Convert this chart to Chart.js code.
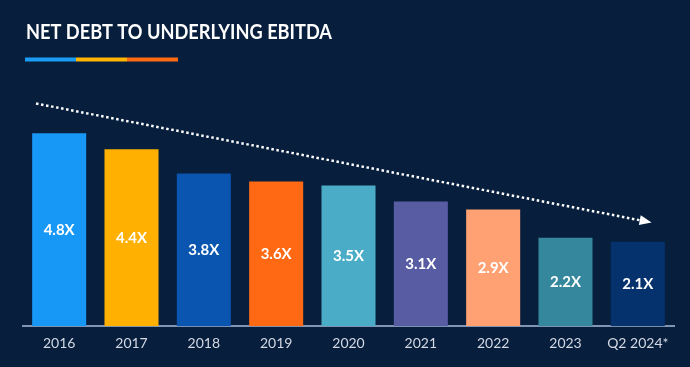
<!DOCTYPE html>
<html>
<head>
<meta charset="utf-8">
<script src="https://cdn.jsdelivr.net/npm/chart.js@4/dist/chart.umd.min.js"></script>
<style>
  html, body { margin: 0; padding: 0; background: #071e3d; }
  #wrap { width: 690px; height: 367px; position: relative; }
</style>
</head>
<body>
<div id="wrap"><canvas id="debtChart"></canvas></div>
<script>
// chart data
const categories = ["2016", "2017", "2018", "2019", "2020", "2021", "2022", "2023", "Q2 2024*"];
const ratios = [4.8, 4.4, 3.8, 3.6, 3.5, 3.1, 2.9, 2.2, 2.1];
const barColors = ["#1898f6", "#ffb000", "#0a55b0", "#ff6914", "#4aacc6", "#585ca2", "#ffa172", "#34879c", "#05326c"];
const titleText = "NET DEBT TO UNDERLYING EBITDA";
const underlineColors = ["#1a9cf2", "#ffb400", "#ff6a13"];
// trend arrow: [category index, ratio] at start and end
const trendStart = [-0.32, 5.54];
const trendEnd = [8.19, 2.58];

const bgColor = "#071e3d";

const backdrop = {
  id: "backdrop",
  beforeDraw(chart) {
    const ctx = chart.ctx;
    ctx.save();
    ctx.fillStyle = bgColor;
    ctx.fillRect(0, 0, chart.width, chart.height);
    ctx.restore();
  }
};

const heading = {
  id: "heading",
  afterDraw(chart) {
    const ctx = chart.ctx;
    ctx.save();
    ctx.fillStyle = "#ffffff";
    ctx.font = "bold 21px Lato";
    ctx.textBaseline = "alphabetic";
    // squeeze a bit so it spans like the original typeface
    const w = ctx.measureText(titleText).width;
    ctx.translate(26, 39);
    ctx.scale(306 / w, 1);
    ctx.fillText(titleText, 0, 0);
    ctx.restore();

    ctx.save();
    let x = 25;
    underlineColors.forEach((c) => {
      ctx.fillStyle = c;
      ctx.fillRect(x, 57.5, 51, 4);
      x += 51;
    });
    ctx.restore();
  }
};

const barLabels = {
  id: "barLabels",
  afterDatasetsDraw(chart) {
    const ctx = chart.ctx;
    const meta = chart.getDatasetMeta(0);
    ctx.save();
    ctx.fillStyle = "#ffffff";
    ctx.font = "bold 15px Lato";
    ctx.textAlign = "center";
    ctx.textBaseline = "middle";
    meta.data.forEach((bar, i) => {
      ctx.fillText(ratios[i].toFixed(1) + "X", bar.x, (bar.y + bar.base) / 2);
    });
    ctx.restore();
  }
};

const trendArrow = {
  id: "trendArrow",
  afterDatasetsDraw(chart) {
    const xs = chart.scales.x, ys = chart.scales.y;
    const x0 = xs.getPixelForValue(trendStart[0]), y0 = ys.getPixelForValue(trendStart[1]);
    const x1 = xs.getPixelForValue(trendEnd[0]), y1 = ys.getPixelForValue(trendEnd[1]);
    const ang = Math.atan2(y1 - y0, x1 - x0);
    const headLen = 12, headHalf = 5;
    const bx = x1 - headLen * Math.cos(ang), by = y1 - headLen * Math.sin(ang);
    const ctx = chart.ctx;
    ctx.save();
    ctx.strokeStyle = "#ffffff";
    ctx.lineWidth = 2.5;
    ctx.setLineDash([2.5, 2.6]);
    ctx.beginPath();
    ctx.moveTo(x0, y0);
    ctx.lineTo(bx, by);
    ctx.stroke();
    ctx.setLineDash([]);
    ctx.fillStyle = "#ffffff";
    ctx.beginPath();
    ctx.moveTo(x1, y1);
    ctx.lineTo(bx + headHalf * Math.sin(ang), by - headHalf * Math.cos(ang));
    ctx.lineTo(bx - headHalf * Math.sin(ang), by + headHalf * Math.cos(ang));
    ctx.closePath();
    ctx.fill();
    ctx.restore();
  }
};

const ctx = document.getElementById("debtChart").getContext("2d");
const debtChart = new Chart(ctx, {
  type: "bar",
  data: {
    labels: categories,
    datasets: [{
      data: ratios,
      backgroundColor: barColors,
      borderWidth: 0,
      categoryPercentage: 1,
      barPercentage: 0.747,
    }],
  },
  options: {
    responsive: true,
    maintainAspectRatio: false,
    animation: false,
    layout: { padding: { left: 23, right: 16, top: 85, bottom: 6 } },
    plugins: {
      legend: { display: false },
      tooltip: { enabled: false },
      title: { display: false },
    },
    scales: {
      x: {
        grid: { display: false, drawTicks: false },
        border: { display: true, color: "#8294b4", width: 2 },
        ticks: { color: "#d4d9e3", font: { family: "Lato", size: 14 }, padding: 9, maxRotation: 0 },
      },
      y: {
        display: false,
        min: 0,
        max: 6,
      },
    },
  },
  plugins: [backdrop, trendArrow, barLabels, heading],
});
</script>
</body>
</html>
